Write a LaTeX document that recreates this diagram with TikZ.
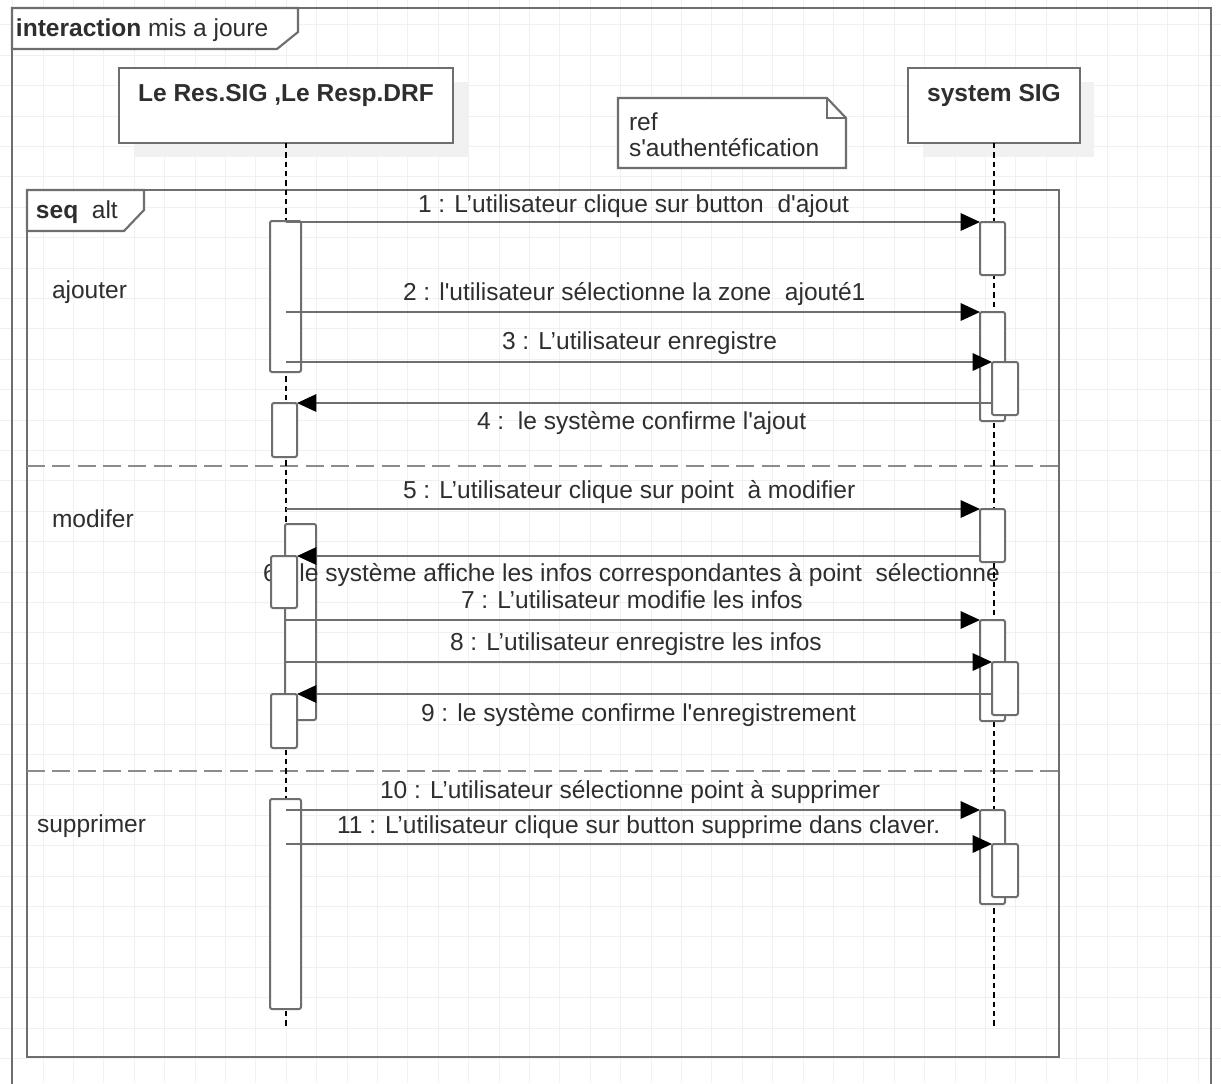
\documentclass[tikz,border=0pt]{standalone}
\usepackage{fontspec}
\setmainfont{Liberation Sans}
\usetikzlibrary{arrows.meta,fit}
\definecolor{edge}{HTML}{6E6E6E}
\definecolor{sepline}{HTML}{8C8C8C}
\definecolor{gridline}{HTML}{F0F0F0}
\definecolor{ink}{HTML}{2E2E2E}
\definecolor{headshadow}{HTML}{F1F1F1}
\begin{document}
\begin{tikzpicture}[x=0.75pt,y=-0.75pt,
  every node/.style={inner sep=0pt, outer sep=0pt, text=ink,
    font=\fontsize{18.4pt}{22pt}\selectfont},
  frameline/.style={draw=edge, line width=1.6pt},
  headbox/.style={draw=edge, line width=1.6pt, fill=white, inner sep=0pt, fit={#1}},
  actbox/.style={draw=edge, line width=1.5pt, fill=white, rounded corners=1.5pt,
    inner sep=0pt, fit={#1}},
  lifeline/.style={draw=black, line width=1.1pt, dash pattern=on 4pt off 3pt},
  separator/.style={draw=sepline, line width=2.2pt, dash pattern=on 13.5pt off 5.5pt},
  msg/.style={draw=edge, line width=1.5pt,
    -{Triangle[length=14.5pt, width=13pt, color=black]}},
  lbl/.style={anchor=base west},
  ttl/.style={anchor=base, font=\fontsize{18.4pt}{22pt}\selectfont\bfseries},
]
\clip (0,0) rectangle (1221,1083);
\fill[white] (0,0) rectangle (1221,1083);

% background grid
\foreach \k in {0,...,39}
  \draw[gridline, line width=0.75pt] (12.6+30.4*\k,0) -- (12.6+30.4*\k,1083);
\foreach \k in {0,...,35}
  \draw[gridline, line width=0.75pt] (0,24.8+30.4*\k) -- (1221,24.8+30.4*\k);

% interaction frame
\draw[frameline] (12,1100) -- (12,8) -- (1211,8) -- (1211,1100);
\draw[frameline, fill=white] (12,8) -- (298,8) -- (298,32) -- (277,49) -- (12,49) -- cycle;
\node[lbl] (frametitle) at (16,36) {\textbf{interaction} mis a joure};

% combined fragment with three operands
\draw[frameline] (27,190) rectangle (1059,1057);
\draw[frameline, fill=white] (27,190) -- (144,190) -- (144,210) -- (124,231) -- (27,231) -- cycle;
\node[lbl] (fragtitle) at (36,218) {\textbf{seq}\ \ alt};
\draw[separator] (27,466) -- (1059,466);
\draw[separator] (27,771) -- (1059,771);
\node[lbl] (opadd) at (52,298) {ajouter};
\node[lbl] (opmod) at (52,527) {modifer};
\node[lbl] (opdel) at (37,832) {supprimer};

% lifeline heads
\fill[headshadow] (134,82) rectangle (468,157);
\fill[headshadow] (923,82) rectangle (1094,157);
\node[headbox={(119,68)(453,143)}] (head1) {};
\node[headbox={(908,68)(1080,143)}] (head2) {};
\node[ttl] (name1) at (286,101) {Le Res.SIG ,Le Resp.DRF};
\node[ttl] (name2) at (994,101) {system SIG};

% reference note
\node[inner sep=0pt, fit={(618,98)(846,168)}] (note) {};
\draw[frameline, fill=white] (618,98) -- (827,98) -- (846,118) -- (846,168) -- (618,168) -- cycle;
\draw[frameline] (827,98) -- (827,118) -- (846,118);
\node[lbl] (noteref) at (629,130) {ref};
\node[lbl] (notetext) at (629,156) {s\textquotesingle authentéfication};

% message labels
\node[lbl] (t1) at (418,212) {1 : L’utilisateur clique sur button\ \ d\textquotesingle ajout};
\node[lbl] (t2) at (403,300) {2 : l\textquotesingle utilisateur sélectionne la zone\ \ ajouté1};
\node[lbl] (t3) at (502,349) {3 : L’utilisateur enregistre};
\node[lbl] (t4) at (477,429) {4 :\ \ le système confirme l\textquotesingle ajout};
\node[lbl] (t5) at (403,498) {5 : L’utilisateur clique sur point\ \ à modifier};
\node[lbl] (t7) at (461,608) {7 : L’utilisateur modifie les infos};
\node[lbl] (t8) at (450,650) {8 : L’utilisateur enregistre les infos};
\node[lbl] (t9) at (421,721) {9 : le système confirme l\textquotesingle enregistrement};
\node[lbl] (t10) at (380,798) {10 : L’utilisateur sélectionne point à supprimer};
\node[lbl] (t11) at (337,833) {11 : L’utilisateur clique sur button supprime dans claver.};

% lifelines and activations (the reply label 6 sits between the
% outer activation and the inner one on the left lifeline)
\coordinate (end1) at (286,1027);
\coordinate (end2) at (994,1027);
\draw[lifeline] (head1.south) -- (end1);
\node[actbox={(285,524)(316,720)}] (B1) {};
\node[lbl] (t6) at (263,581) {6 : le système affiche les infos correspondantes à point\ \ sélectionne};
\draw[lifeline] (head2.south) -- (end2);

\node[actbox={(270,221)(301,372)}] (A1) {};
\node[actbox={(272,403)(297,457)}] (A2) {};
\node[actbox={(271,556)(297,608)}] (B2) {};
\node[actbox={(271,694)(297,748)}] (B3) {};
\node[actbox={(270,799)(301,1009)}] (C1) {};
\node[actbox={(980,222)(1005,275)}] (D1) {};
\node[actbox={(980,312)(1005,421)}] (D2) {};
\node[actbox={(992,362)(1018,415)}] (D3) {};
\node[actbox={(980,509)(1005,562)}] (E1) {};
\node[actbox={(980,620)(1005,721)}] (E2) {};
\node[actbox={(992,662)(1018,715)}] (E3) {};
\node[actbox={(980,810)(1005,904)}] (F1) {};
\node[actbox={(992,844)(1018,897)}] (F2) {};

% messages
\draw[msg] (head1.south |- D1.north west) -- (D1.north west);
\draw[msg] (head1.south |- D2.north west) -- (D2.north west);
\draw[msg] (head1.south |- D3.north west) -- (D3.north west);
\draw[msg] (D3.west |- A2.north east) -- (A2.north east);
\draw[msg] (head1.south |- E1.north west) -- (E1.north west);
\draw[msg] (E1.west |- B2.north east) -- (B2.north east);
\draw[msg] (head1.south |- E2.north west) -- (E2.north west);
\draw[msg] (head1.south |- E3.north west) -- (E3.north west);
\draw[msg] (E3.west |- B3.north east) -- (B3.north east);
\draw[msg] (head1.south |- F1.north west) -- (F1.north west);
\draw[msg] (head1.south |- F2.north west) -- (F2.north west);
\end{tikzpicture}
\end{document}
